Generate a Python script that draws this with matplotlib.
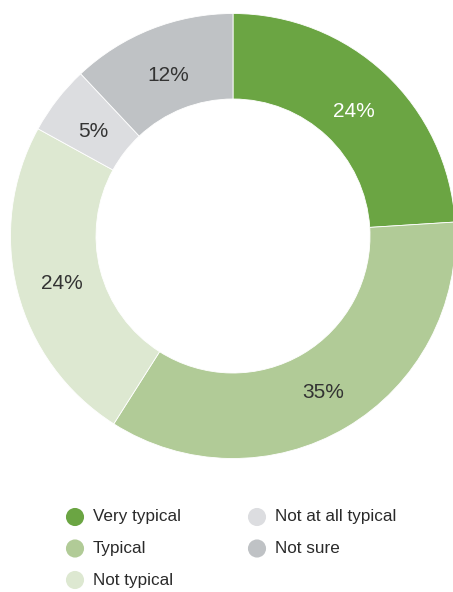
import numpy as np
import matplotlib.pyplot as plt

labels = ['Very typical', 'Typical', 'Not typical', 'Not at all typical', 'Not sure']
values = [24, 35, 24, 5, 12]
colors = ['#6ba543', '#b1cb97', '#dde8d1', '#dcdde0', '#bfc2c5']
label_colors = ['white', '#333333', '#333333', '#333333', '#333333']

plt.rcParams['font.family'] = ['Liberation Sans', 'DejaVu Sans']

W, H = 453, 592
fig = plt.figure(figsize=(W / 100, H / 100), dpi=100)
ax = fig.add_axes([0, 0, 1, 1])

cx, cy = 233, H - 236
R = 222.5
ring = 85.5

wedges, _ = ax.pie(values, colors=colors, startangle=90, counterclock=False,
                   center=(cx, cy), radius=R, frame=True,
                   wedgeprops=dict(width=ring, edgecolor='white', linewidth=0.6))

# percentage labels in the middle of the ring
for w, v, tc in zip(wedges, values, label_colors):
    ang = np.deg2rad((w.theta1 + w.theta2) / 2)
    r = R - ring / 2 - 3
    ax.text(cx + r * np.cos(ang), cy + r * np.sin(ang) - 2, f'{v}%',
            fontsize=15, color=tc, ha='center', va='center_baseline')

ax.set_xlim(0, W)
ax.set_ylim(0, H)
ax.set_aspect('equal')
ax.axis('off')

# legend, two columns
for i, (lab, col) in enumerate(zip(labels, colors)):
    c = i // 3
    r = i % 3
    x = 75 + c * 182
    y = H - (517 + r * 31.5)
    ax.scatter([x], [y], s=170, color=col, edgecolors='none', clip_on=False)
    ax.text(x + 18, y, lab, fontsize=12.3, color='#2a2a2a', va='center', ha='left')

fig.savefig('out.png', dpi=100)
